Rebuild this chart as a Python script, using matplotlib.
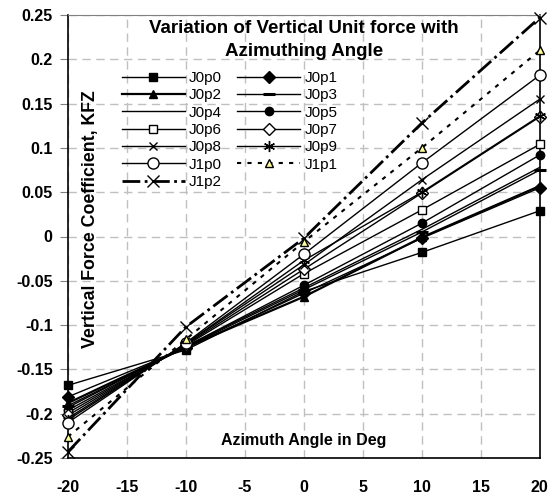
import matplotlib
matplotlib.use('Agg')
import matplotlib.pyplot as plt

plt.rcParams['font.family'] = ['Liberation Sans', 'DejaVu Sans']
plt.rcParams['axes.unicode_minus'] = False

angulos = [-20, -10, 0, 10, 20]

J0p0 = [-0.168, -0.128, -0.062, -0.018, 0.029]
J0p1 = [-0.181, -0.126, -0.064, -0.002, 0.055]
J0p2 = [-0.188, -0.125, -0.068, -0.001, 0.057]
J0p3 = [-0.191, -0.125, -0.060, 0.005, 0.075]
J0p4 = [-0.193, -0.124, -0.058, 0.008, 0.078]
J0p5 = [-0.196, -0.124, -0.055, 0.015, 0.092]
J0p6 = [-0.199, -0.123, -0.042, 0.030, 0.104]
J0p7 = [-0.202, -0.122, -0.037, 0.049, 0.135]
J0p8 = [-0.205, -0.121, -0.032, 0.064, 0.155]
J0p9 = [-0.207, -0.121, -0.027, 0.050, 0.136]
J1p0 = [-0.210, -0.120, -0.020, 0.083, 0.182]
J1p1 = [-0.226, -0.116, -0.006, 0.100, 0.210]
J1p2 = [-0.243, -0.102, -0.002, 0.128, 0.247]

nombres = ['J0p0', 'J0p1', 'J0p2', 'J0p3', 'J0p4', 'J0p5', 'J0p6',
           'J0p7', 'J0p8', 'J0p9', 'J1p0', 'J1p1', 'J1p2']
series = [J0p0, J0p1, J0p2, J0p3, J0p4, J0p5, J0p6,
          J0p7, J0p8, J0p9, J1p0, J1p1, J1p2]

# estilo de cada serie: marcador, relleno, linea, grosor
estilos = [
    ('s', 'black', '-', 1.0),
    ('D', 'black', '-', 1.0),
    ('^', 'black', '-', 1.6),
    ('_', 'black', '-', 1.0),
    ('None', 'black', '-', 1.0),
    ('o', 'black', '-', 1.0),
    ('s', 'white', '-', 1.0),
    ('D', 'white', '-', 1.0),
    ('x', 'black', '-', 1.0),
    ((6, 2, 0), 'black', '-', 1.0),
    ('o', 'white', '-', 1.0),
    ('^', '#ffff99', (0, (2, 3)), 1.5),
    ('x', 'black', '-.', 2.0),
]

fig = plt.figure(figsize=(5.57, 5.0), dpi=100)
ax = fig.add_axes([0.122, 0.084, 0.847, 0.886])

lineas = {}
for nombre, datos, (m, fc, ls, lw) in zip(nombres, series, estilos):
    ms = 6
    mew = 1.0
    if m == '_':
        ms = 8
        mew = 2.2
    if m == 'x' and nombre == 'J1p2':
        ms = 9
    if m == 'o' and fc == 'white':
        ms = 8
    if nombre == 'J0p9':
        ms = 8
    l, = ax.plot(angulos, datos, color='black', linestyle=ls, linewidth=lw,
                 marker=m, markersize=ms, markerfacecolor=fc,
                 markeredgecolor='black', markeredgewidth=mew, label=nombre,
                 clip_on=False, zorder=3)
    lineas[nombre] = l

ax.set_xlim(-20, 20)
ax.set_ylim(-0.25, 0.25)
ax.set_xticks(range(-20, 21, 5))
ax.set_yticks([-0.25, -0.2, -0.15, -0.1, -0.05, 0, 0.05, 0.1, 0.15, 0.2, 0.25])
ax.set_yticklabels(['-0.25', '-0.2', '-0.15', '-0.1', '-0.05', '0',
                    '0.05', '0.1', '0.15', '0.2', '0.25'])
ax.grid(True, color='#c0c0c0', linestyle=(0, (6, 4)), linewidth=1.0)
ax.set_axisbelow(True)
ax.tick_params(labelsize=11.5, color='#808080')
ax.tick_params(axis='y', length=6, pad=5)
ax.tick_params(axis='x', length=0, pad=16)
for t in ax.get_xticklabels() + ax.get_yticklabels():
    t.set_fontweight('bold')

ax.spines['top'].set_color('#808080')
for s in ['left', 'bottom', 'right']:
    ax.spines[s].set_color('black')
    ax.spines[s].set_linewidth(1.2)

ax.text(0.5, 0.969, 'Variation of Vertical Unit force with', transform=ax.transAxes,
        ha='center', va='center', fontsize=13.5, fontweight='bold')
ax.text(0.5, 0.918, 'Azimuthing Angle', transform=ax.transAxes,
        ha='center', va='center', fontsize=13.5, fontweight='bold')
ax.text(0.047, 0.54, 'Vertical Force Coefficient, KFZ', transform=ax.transAxes,
        rotation=90, ha='center', va='center', fontsize=12.8, fontweight='bold')
ax.text(0.5, 0.04, 'Azimuth Angle in Deg', transform=ax.transAxes,
        ha='center', va='center', fontsize=11.5, fontweight='bold')

# leyenda por filas: reordenar para que ncol=2 llene como en Excel
orden = ['J0p0', 'J0p2', 'J0p4', 'J0p6', 'J0p8', 'J1p0', 'J1p2',
         'J0p1', 'J0p3', 'J0p5', 'J0p7', 'J0p9', 'J1p1']
ax.legend([lineas[n] for n in orden], orden, ncol=2, frameon=False,
          loc='upper left', bbox_to_anchor=(0.219, 0.858),
          bbox_transform=fig.transFigure, borderpad=0, borderaxespad=0,
          fontsize=11, handlelength=4.1, handletextpad=0.3,
          columnspacing=1.0, labelspacing=0.22)

fig.savefig('out.png', dpi=100)
